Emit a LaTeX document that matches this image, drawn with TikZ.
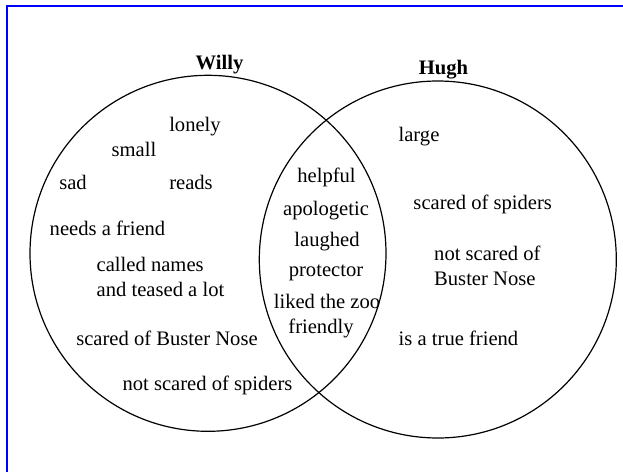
\documentclass[tikz,border=0pt]{standalone}
\usepackage{fontspec}
\setmainfont{Liberation Serif}
\begin{document}
\begin{tikzpicture}[x=1pt, y=-1pt, every node/.style={inner sep=0pt, font=\fontsize{20.6}{25}\selectfont}]
\useasboundingbox (0,0) rectangle (623,472);

\draw[blue, line width=1.7pt] (6.9,472) -- (6.9,5.9) -- (623,5.9);

\draw[line width=1.2pt] (208,253.3) circle [radius=178];
\draw[line width=1.2pt] (437.8,259.5) circle [radius=178.5];

\node[anchor=base] (willy) at (219.5,69) {\textbf{Willy}};
\node[anchor=base] (hugh) at (443.5,74) {\textbf{Hugh}};

% Willy only
\node[anchor=base] (lonely) at (195,131.7) {lonely};
\node[anchor=base] (small) at (134,156.7) {small};
\node[anchor=base] (sad) at (73,189) {sad};
\node[anchor=base] (reads) at (191,189) {reads};
\node[anchor=base] (needs) at (107.5,235) {needs a friend};
\node[anchor=base west] (called) at (96.5,271.7) {called names};
\node[anchor=base west] (teased) at (96.5,296.7) {and teased a lot};
\node[anchor=base] (scaredbuster) at (167,345) {scared of Buster Nose};
\node[anchor=base] (notspiders) at (207.5,390.7) {not scared of spiders};

% both
\foreach \word/\x/\y/\n in {helpful/326.5/182.7/helpful, apologetic/326/215/apologetic,
  laughed/327/246/laughed, protector/326/276.7/protector,
  liked the zoo/327/308/zoo, friendly/321/333/friendly}
{
	\node[anchor=base] (\n) at (\x,\y) {\word};
}

% Hugh only
\node[anchor=base] (large) at (419,141.7) {large};
\node[anchor=base] (scaredspiders) at (482.7,209) {scared of spiders};
\node[anchor=base west] (notscared) at (434,260) {not scared of};
\node[anchor=base west] (buster) at (434,285) {Buster Nose};
\node[anchor=base] (truefriend) at (458.5,345) {is a true friend};
\end{tikzpicture}
\end{document}
